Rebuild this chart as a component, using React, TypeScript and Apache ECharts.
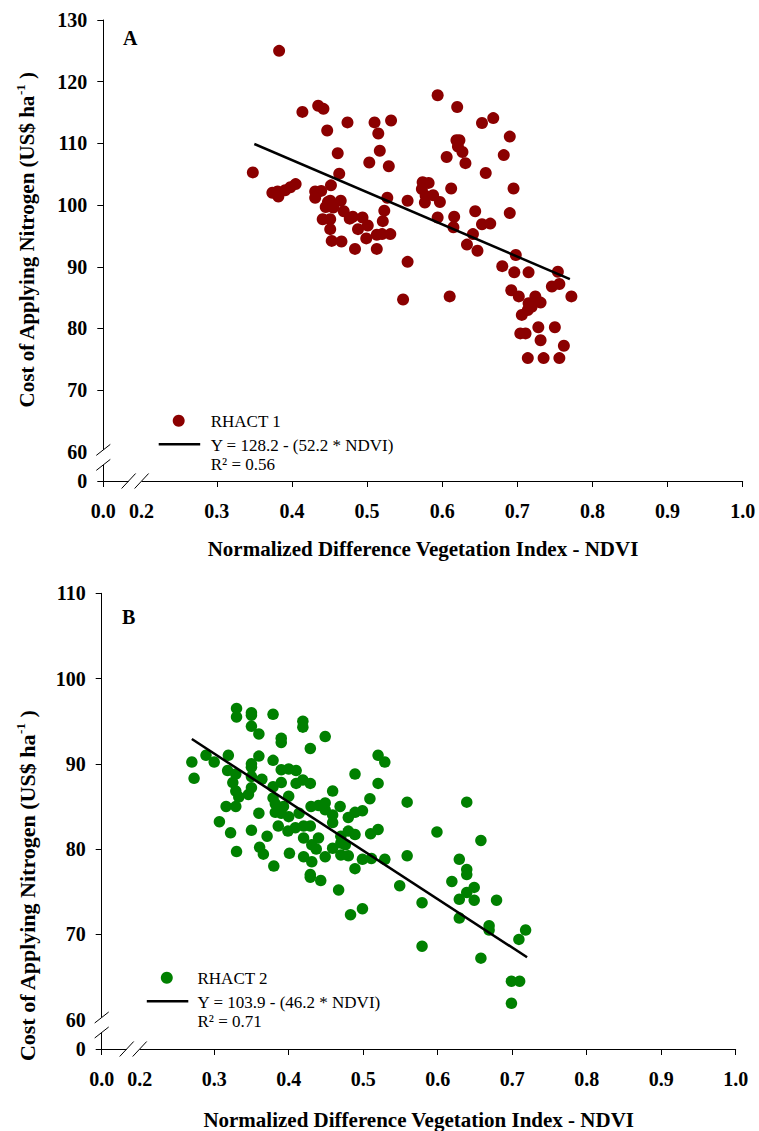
import React, { useEffect, useRef } from 'react';
import * as echarts from 'echarts';

const W = 759;
const H = 1131;

// ---------- Panel A (RHACT 1) ----------
const ndviA = [
  0.383, 0.348, 0.414, 0.435, 0.442, 0.474, 0.447, 0.510, 0.532, 0.515,
  0.461, 0.517, 0.503, 0.529, 0.463, 0.452, 0.374, 0.381, 0.382, 0.391,
  0.398, 0.405, 0.431, 0.439, 0.431, 0.448, 0.451, 0.465, 0.445, 0.455,
  0.469, 0.441, 0.451, 0.451, 0.477, 0.481, 0.494, 0.501, 0.488, 0.453,
  0.466, 0.484, 0.499, 0.513, 0.520, 0.531, 0.513, 0.523, 0.521, 0.527,
  0.554, 0.554, 0.574, 0.582, 0.573, 0.578, 0.588, 0.577, 0.597, 0.594,
  0.620, 0.606, 0.619, 0.623, 0.621, 0.627, 0.631, 0.612, 0.594, 0.616,
  0.615, 0.644, 0.653, 0.668, 0.658, 0.653, 0.664, 0.641, 0.633, 0.647,
  0.690, 0.682, 0.695, 0.690, 0.698, 0.680, 0.696, 0.715, 0.754, 0.746,
  0.756, 0.772, 0.548, 0.610, 0.692, 0.702, 0.724, 0.715, 0.731, 0.719,
  0.714, 0.706, 0.728, 0.750, 0.704, 0.711, 0.731, 0.762, 0.714, 0.735,
  0.756,
];
const costA = [
  125.0, 105.3, 115.1, 116.1, 115.6, 113.4, 112.1, 113.4, 113.7, 111.6,
  108.4, 108.8, 106.9, 106.3, 105.1, 103.2, 102.0, 102.2, 101.4, 102.4,
  102.9, 103.4, 102.2, 102.3, 101.2, 100.5, 100.7, 100.7, 99.7, 99.6,
  99.0, 97.7, 97.7, 96.1, 97.8, 98.1, 98.0, 96.7, 96.1, 94.2,
  94.1, 92.9, 94.6, 95.2, 95.3, 95.3, 92.9, 99.1, 97.4, 101.2,
  100.7, 90.8, 103.7, 103.6, 102.6, 101.5, 101.6, 100.4, 100.5, 117.8,
  115.9, 107.8, 110.5, 110.5, 109.5, 108.6, 106.8, 102.7, 98.0, 98.1,
  96.4, 99.0, 113.3, 114.1, 105.2, 96.9, 97.0, 95.3, 93.6, 92.6,
  111.1, 108.1, 102.7, 98.7, 91.9, 90.1, 89.1, 89.1, 89.2, 86.8,
  87.2, 85.2, 84.7, 85.2, 86.2, 85.2, 85.2, 84.1, 84.2, 83.5,
  83.0, 82.2, 80.2, 80.2, 79.2, 79.2, 78.1, 77.2, 75.2, 75.2,
  75.2,
];
const fitNdviA = [0.35, 0.77];
const fitCostA = [109.9, 88.0];

// ---------- Panel B (RHACT 2) ----------
const ndviB = [
  0.330, 0.330, 0.350, 0.350, 0.379, 0.419, 0.419, 0.350, 0.360, 0.390,
  0.390, 0.449, 0.429, 0.270, 0.273, 0.289, 0.300, 0.319, 0.360, 0.379,
  0.350, 0.350, 0.318, 0.329, 0.350, 0.364, 0.325, 0.390, 0.400, 0.410,
  0.410, 0.419, 0.429, 0.390, 0.379, 0.350, 0.329, 0.346, 0.333, 0.459,
  0.489, 0.520, 0.529, 0.520, 0.509, 0.559, 0.639, 0.379, 0.400, 0.382,
  0.393, 0.430, 0.440, 0.449, 0.469, 0.316, 0.329, 0.360, 0.382, 0.390,
  0.400, 0.414, 0.449, 0.459, 0.459, 0.480, 0.489, 0.499, 0.307, 0.322,
  0.350, 0.371, 0.386, 0.399, 0.409, 0.420, 0.429, 0.420, 0.440, 0.431,
  0.437, 0.470, 0.480, 0.489, 0.510, 0.520, 0.599, 0.658, 0.459, 0.470,
  0.476, 0.361, 0.330, 0.366, 0.401, 0.420, 0.449, 0.470, 0.480, 0.499,
  0.511, 0.529, 0.559, 0.629, 0.380, 0.431, 0.489, 0.639, 0.639, 0.429,
  0.429, 0.443, 0.467, 0.549, 0.619, 0.649, 0.639, 0.629, 0.649, 0.679,
  0.579, 0.483, 0.499, 0.629, 0.669, 0.669, 0.718, 0.709, 0.579, 0.658,
  0.699, 0.710, 0.699,
];
const costB = [
  96.5, 95.5, 96.0, 95.7, 95.8, 95.0, 94.3, 94.4, 93.5, 93.0,
  92.5, 93.2, 91.8, 90.2, 88.3, 91.0, 90.2, 91.0, 90.9, 90.4,
  90.0, 89.6, 89.2, 88.8, 88.5, 88.2, 87.8, 89.3, 89.4, 89.2,
  87.7, 88.1, 87.7, 87.8, 87.3, 87.2, 86.8, 86.4, 86.1, 86.8,
  88.8, 91.0, 90.2, 87.7, 85.9, 85.5, 85.5, 86.0, 86.2, 85.3,
  85.0, 85.0, 85.1, 85.4, 85.0, 85.0, 85.0, 84.2, 84.3, 84.2,
  83.8, 84.2, 84.6, 84.0, 83.1, 83.7, 84.3, 84.5, 83.2, 81.9,
  82.2, 81.5, 82.7, 82.1, 82.5, 82.7, 82.7, 81.3, 81.3, 80.5,
  80.0, 81.5, 82.1, 81.7, 81.8, 82.3, 82.0, 81.0, 80.1, 80.7,
  80.5, 80.2, 79.7, 79.4, 79.5, 79.1, 79.1, 79.3, 79.2, 78.8,
  78.9, 78.8, 79.2, 78.8, 78.0, 78.5, 77.7, 77.6, 77.0, 77.0,
  76.7, 76.3, 75.2, 75.7, 76.2, 75.5, 74.9, 74.1, 74.0, 74.0,
  73.7, 72.3, 73.0, 71.9, 71.0, 70.5, 70.5, 69.4, 68.6, 67.2,
  64.5, 64.5, 61.9,
];
const fitNdviB = [0.27, 0.72];
const fitCostB = [92.9, 67.3];

// ---------- Axes ----------
const xLabelValues = [0.149, 0.2, 0.3, 0.4, 0.5, 0.6, 0.7, 0.8, 0.9, 1.0];
const xTickValues = [0.149, 0.3, 0.4, 0.5, 0.6, 0.7, 0.8, 0.9, 1.0];
const yMinA = 55.28;
const yLabelsA = [yMinA, 60, 70, 80, 90, 100, 110, 120, 130];
const yTicksA = [yMinA, 70, 80, 90, 100, 110, 120, 130];
const yMinB = 56.54;
const yLabelsB = [yMinB, 60, 70, 80, 90, 100, 110];
const yTicksB = [yMinB, 70, 80, 90, 100, 110];

const xTitle = 'Normalized Difference Vegetation Index - NDVI';
const yTitle = '{m|Cost of Applying Nitrogen (US$ ha}{sup|-1}{m| )}';
const legendA = ['RHACT 1', 'Y = 128.2 - (52.2 * NDVI)', 'R² = 0.56'];
const legendB = ['RHACT 2', 'Y = 103.9 - (46.2 * NDVI)', 'R² = 0.71'];

const colorA = '#8B0000';
const colorB = '#008000';
const FONT = 'Liberation Serif';

function zip(a: number[], b: number[]) {
  return a.map((v, i) => [v, b[i]]);
}

export default function App() {
  const ref = useRef<HTMLDivElement>(null);

  useEffect(() => {
    if (!ref.current) return;
    const chart = echarts.init(ref.current, null, { renderer: 'svg', width: W, height: H });

    const xAxis = (gridIndex: number, nameGap: number) => ({
      type: 'value',
      gridIndex,
      min: 0.149,
      max: 1.0,
      axisLine: { show: true, onZero: false, lineStyle: { color: '#000', width: 1 } },
      axisTick: { show: true, length: 6, lineStyle: { color: '#000', width: 1 }, customValues: xTickValues },
      axisLabel: {
        customValues: xLabelValues,
        formatter: (v: number) => (v < 0.18 ? '0.0' : v.toFixed(1)),
        fontFamily: FONT,
        fontWeight: 'bold',
        fontSize: 20,
        color: '#000',
        margin: 20,
      },
      splitLine: { show: false },
      name: xTitle,
      nameLocation: 'middle',
      nameGap,
      nameTextStyle: { fontFamily: FONT, fontWeight: 'bold', fontSize: 21, color: '#000' },
    });

    const yAxis = (gridIndex: number, min: number, max: number, labels: number[], ticks: number[]) => ({
      type: 'value',
      gridIndex,
      min,
      max,
      axisLine: { show: true, onZero: false, lineStyle: { color: '#000', width: 1 } },
      axisTick: { show: true, length: 6, lineStyle: { color: '#000', width: 1 }, customValues: ticks },
      axisLabel: {
        customValues: labels,
        formatter: (v: number) => (v < 59 ? '0' : String(Math.round(v))),
        fontFamily: FONT,
        fontWeight: 'bold',
        fontSize: 20,
        color: '#000',
        margin: 16,
      },
      splitLine: { show: false },
    });

    chart.setOption({
      animation: false,
      backgroundColor: '#fff',
      grid: [
        { left: 103.3, top: 20, width: 639.4, height: 461 },
        { left: 101.7, top: 593.3, width: 634, height: 456 },
      ],
      xAxis: [xAxis(0, 57), xAxis(1, 60)],
      yAxis: [
        yAxis(0, yMinA, 130, yLabelsA, yTicksA),
        yAxis(1, yMinB, 110, yLabelsB, yTicksB),
      ],
      series: [
        {
          name: legendA[0],
          type: 'scatter',
          xAxisIndex: 0,
          yAxisIndex: 0,
          data: zip(ndviA, costA),
          symbol: 'circle',
          symbolSize: 12,
          itemStyle: { color: colorA, opacity: 1 },
        },
        {
          name: legendA[1],
          type: 'line',
          xAxisIndex: 0,
          yAxisIndex: 0,
          data: zip(fitNdviA, fitCostA),
          symbol: 'none',
          lineStyle: { color: '#000', width: 2.5 },
        },
        {
          name: legendB[0],
          type: 'scatter',
          xAxisIndex: 1,
          yAxisIndex: 1,
          data: zip(ndviB, costB),
          symbol: 'circle',
          symbolSize: 11.5,
          itemStyle: { color: colorB, opacity: 1 },
        },
        {
          name: legendB[1],
          type: 'line',
          xAxisIndex: 1,
          yAxisIndex: 1,
          data: zip(fitNdviB, fitCostB),
          symbol: 'none',
          lineStyle: { color: '#000', width: 2.5 },
        },
      ],
    });

    // Decorations positioned from the axes
    const graphics: any[] = [];
    const panels = [
      { grid: 0, ymin: yMinA, letter: 'A', legend: legendA, color: colorA, titleX: 27, titleY: 240, titleSize: 21 },
      { grid: 1, ymin: yMinB, letter: 'B', legend: legendB, color: colorB, titleX: 27, titleY: 886, titleSize: 22 },
    ];
    panels.forEach((p) => {
      const origin = chart.convertToPixel({ gridIndex: p.grid }, [0.149, p.ymin]) as number[];
      const p60 = chart.convertToPixel({ gridIndex: p.grid }, [0.2, 60]) as number[];
      const ax = origin[0];
      const ay = origin[1];
      const x02 = p60[0];
      const y60 = p60[1];
      // y-axis break
      const yU = y60 - 2;
      const yL = y60 + 13;
      graphics.push({ type: 'rect', shape: { x: ax - 3, y: yU, width: 6, height: yL - yU }, style: { fill: '#fff' }, z: 50 });
      [yU, yL].forEach((yy) =>
        graphics.push({ type: 'line', shape: { x1: ax - 7, y1: yy + 5.5, x2: ax + 7, y2: yy - 5.5 }, style: { stroke: '#000', lineWidth: 1 }, z: 51 })
      );
      // x-axis break
      const xL = x02 - 13;
      const xR = x02;
      graphics.push({ type: 'rect', shape: { x: xL, y: ay - 3, width: xR - xL, height: 6 }, style: { fill: '#fff' }, z: 50 });
      [xL, xR].forEach((xx) =>
        graphics.push({ type: 'line', shape: { x1: xx - 7, y1: ay + 7.5, x2: xx + 7, y2: ay - 7.5 }, style: { stroke: '#000', lineWidth: 1 }, z: 51 })
      );
      // panel letter
      const top = chart.convertToPixel({ gridIndex: p.grid }, [0.149, p.grid === 0 ? 130 : 110]) as number[];
      graphics.push({
        type: 'text',
        x: ax + 27,
        y: top[1] + (p.grid === 0 ? 18 : 24),
        style: { text: p.letter, fontFamily: FONT, fontWeight: 'bold', fontSize: 20, fill: '#000', align: 'center', verticalAlign: 'middle' },
      });
      // y title
      graphics.push({
        type: 'text',
        x: p.titleX,
        y: p.titleY,
        rotation: Math.PI / 2,
        style: {
          text: yTitle,
          align: 'center',
          verticalAlign: 'middle',
          fill: '#000',
          fontFamily: FONT,
          fontWeight: 'bold',
          fontSize: p.titleSize,
          rich: {
            m: { fontFamily: FONT, fontWeight: 'bold', fontSize: p.titleSize, lineHeight: 26, fill: '#000', verticalAlign: 'middle' },
            sup: { fontFamily: FONT, fontWeight: 'bold', fontSize: 13, lineHeight: 13, fill: '#000', verticalAlign: 'top' },
          },
        },
      });
      // legend
      const lx = p.grid === 0 ? 178.7 : 166.8;
      const ly = p.grid === 0 ? 420.7 : 977.7;
      const tx = p.grid === 0 ? 210.7 : 197.5;
      graphics.push({ type: 'circle', shape: { cx: lx, cy: ly, r: 6 }, style: { fill: p.color } });
      graphics.push({ type: 'line', shape: { x1: lx - 20, y1: ly + 23.5, x2: lx + 21.5, y2: ly + 23.5 }, style: { stroke: '#000', lineWidth: 2.5 } });
      p.legend.forEach((t, i) => {
        graphics.push({
          type: 'text',
          x: tx,
          y: ly + [1, 24.5, 43.5][i],
          style: { text: t, fontFamily: FONT, fontSize: 17, fill: '#000', align: 'left', verticalAlign: 'middle' },
        });
      });
    });
    chart.setOption({ graphic: graphics });

    return () => chart.dispose();
  }, []);

  return <div ref={ref} style={{ position: 'absolute', left: 0, top: 0, width: W, height: H, background: '#fff' }} />;
}
